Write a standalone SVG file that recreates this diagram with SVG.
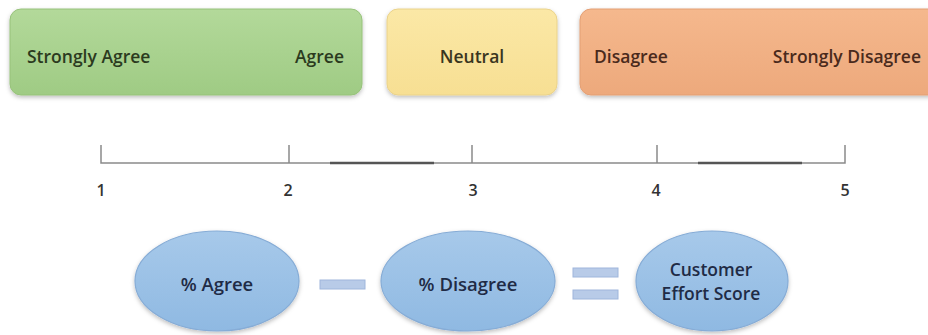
<svg xmlns="http://www.w3.org/2000/svg" width="928" height="335" viewBox="0 0 928 335">
<defs>
<linearGradient id="gGreen" x1="0" y1="0" x2="0" y2="1"><stop offset="0" stop-color="#b3d99a"/><stop offset="1" stop-color="#9fcb84"/></linearGradient>
<linearGradient id="gYellow" x1="0" y1="0" x2="0" y2="1"><stop offset="0" stop-color="#fbe8a6"/><stop offset="1" stop-color="#f7df93"/></linearGradient>
<linearGradient id="gOrange" x1="0" y1="0" x2="0" y2="1"><stop offset="0" stop-color="#f5b88d"/><stop offset="1" stop-color="#eda97c"/></linearGradient>
<linearGradient id="gBlue" x1="0" y1="0" x2="0" y2="1"><stop offset="0" stop-color="#a7c9ea"/><stop offset="1" stop-color="#8fb9e2"/></linearGradient>
<filter id="sh" x="-10%" y="-20%" width="120%" height="150%"><feDropShadow dx="0" dy="2" stdDeviation="2" flood-color="#000" flood-opacity="0.25"/></filter>
</defs>
<style>
.lbl{font-family:"Open Sans","Liberation Sans",sans-serif;font-size:17.5px;font-weight:600}
.num{font-family:"Open Sans","Liberation Sans",sans-serif;font-size:16px;font-weight:600;fill:#333;text-anchor:middle}
.ax{stroke:#8a8a8a;stroke-width:1.5;fill:none}
.axd{stroke:#555;stroke-width:2.5}
.ell{fill:url(#gBlue);stroke:#86acd6;stroke-width:1.2;filter:url(#sh)}
.bar{fill:#b8cbe8;stroke:#9fb6dc;stroke-width:1}
.et{font-family:"Open Sans","Liberation Sans",sans-serif;font-size:18.5px;font-weight:600;fill:#1f2b45;text-anchor:middle}
.et2{font-size:17.5px}
</style>
<rect width="928" height="335" fill="#fff"/>
<g id="agree-box">
<rect x="10" y="9" width="352" height="86" rx="11" fill="url(#gGreen)" stroke="#97c27b" filter="url(#sh)"/>
<text class="lbl" x="27" y="63" fill="#2b3a1e">Strongly Agree</text>
<text class="lbl" x="344" y="63" fill="#2b3a1e" text-anchor="end">Agree</text>
</g>
<g id="neutral-box">
<rect x="387" y="9" width="170" height="86" rx="11" fill="url(#gYellow)" stroke="#ead28a" filter="url(#sh)"/>
<text class="lbl" x="472" y="63" fill="#3a3620" text-anchor="middle">Neutral</text>
</g>
<g id="disagree-box">
<rect x="580" y="9" width="360" height="86" rx="11" fill="url(#gOrange)" stroke="#e39f74" filter="url(#sh)"/>
<text class="lbl" x="594" y="63" fill="#4a2a1c">Disagree</text>
<text class="lbl" x="921" y="63" fill="#4a2a1c" text-anchor="end">Strongly Disagree</text>
</g>
<g id="scale">
<path class="ax" d="M101 145V163H845V145M289 145V163M472 145V163M657 145V163"/>
<path class="axd" d="M330 163H434M698 163H802"/>
<text class="num" x="101" y="196">1</text>
<text class="num" x="288" y="196">2</text>
<text class="num" x="473" y="196">3</text>
<text class="num" x="656" y="196">4</text>
<text class="num" x="845" y="196">5</text>
</g>
<g id="pct-agree">
<ellipse class="ell" cx="217" cy="281" rx="82" ry="50"/>
<text class="et" x="217" y="291">% Agree</text>
</g>
<g id="minus">
<rect class="bar" x="320" y="280" width="45" height="9"/>
</g>
<g id="pct-disagree">
<ellipse class="ell" cx="468" cy="281" rx="87" ry="50"/>
<text class="et" x="468" y="291">% Disagree</text>
</g>
<g id="equals">
<rect class="bar" x="573" y="268" width="45" height="9"/>
<rect class="bar" x="573" y="290" width="45" height="9"/>
</g>
<g id="ces">
<ellipse class="ell" cx="712" cy="281" rx="76" ry="50"/>
<text class="et et2" x="711" y="276">Customer</text>
<text class="et et2" x="711" y="300">Effort Score</text>
</g>
</svg>
